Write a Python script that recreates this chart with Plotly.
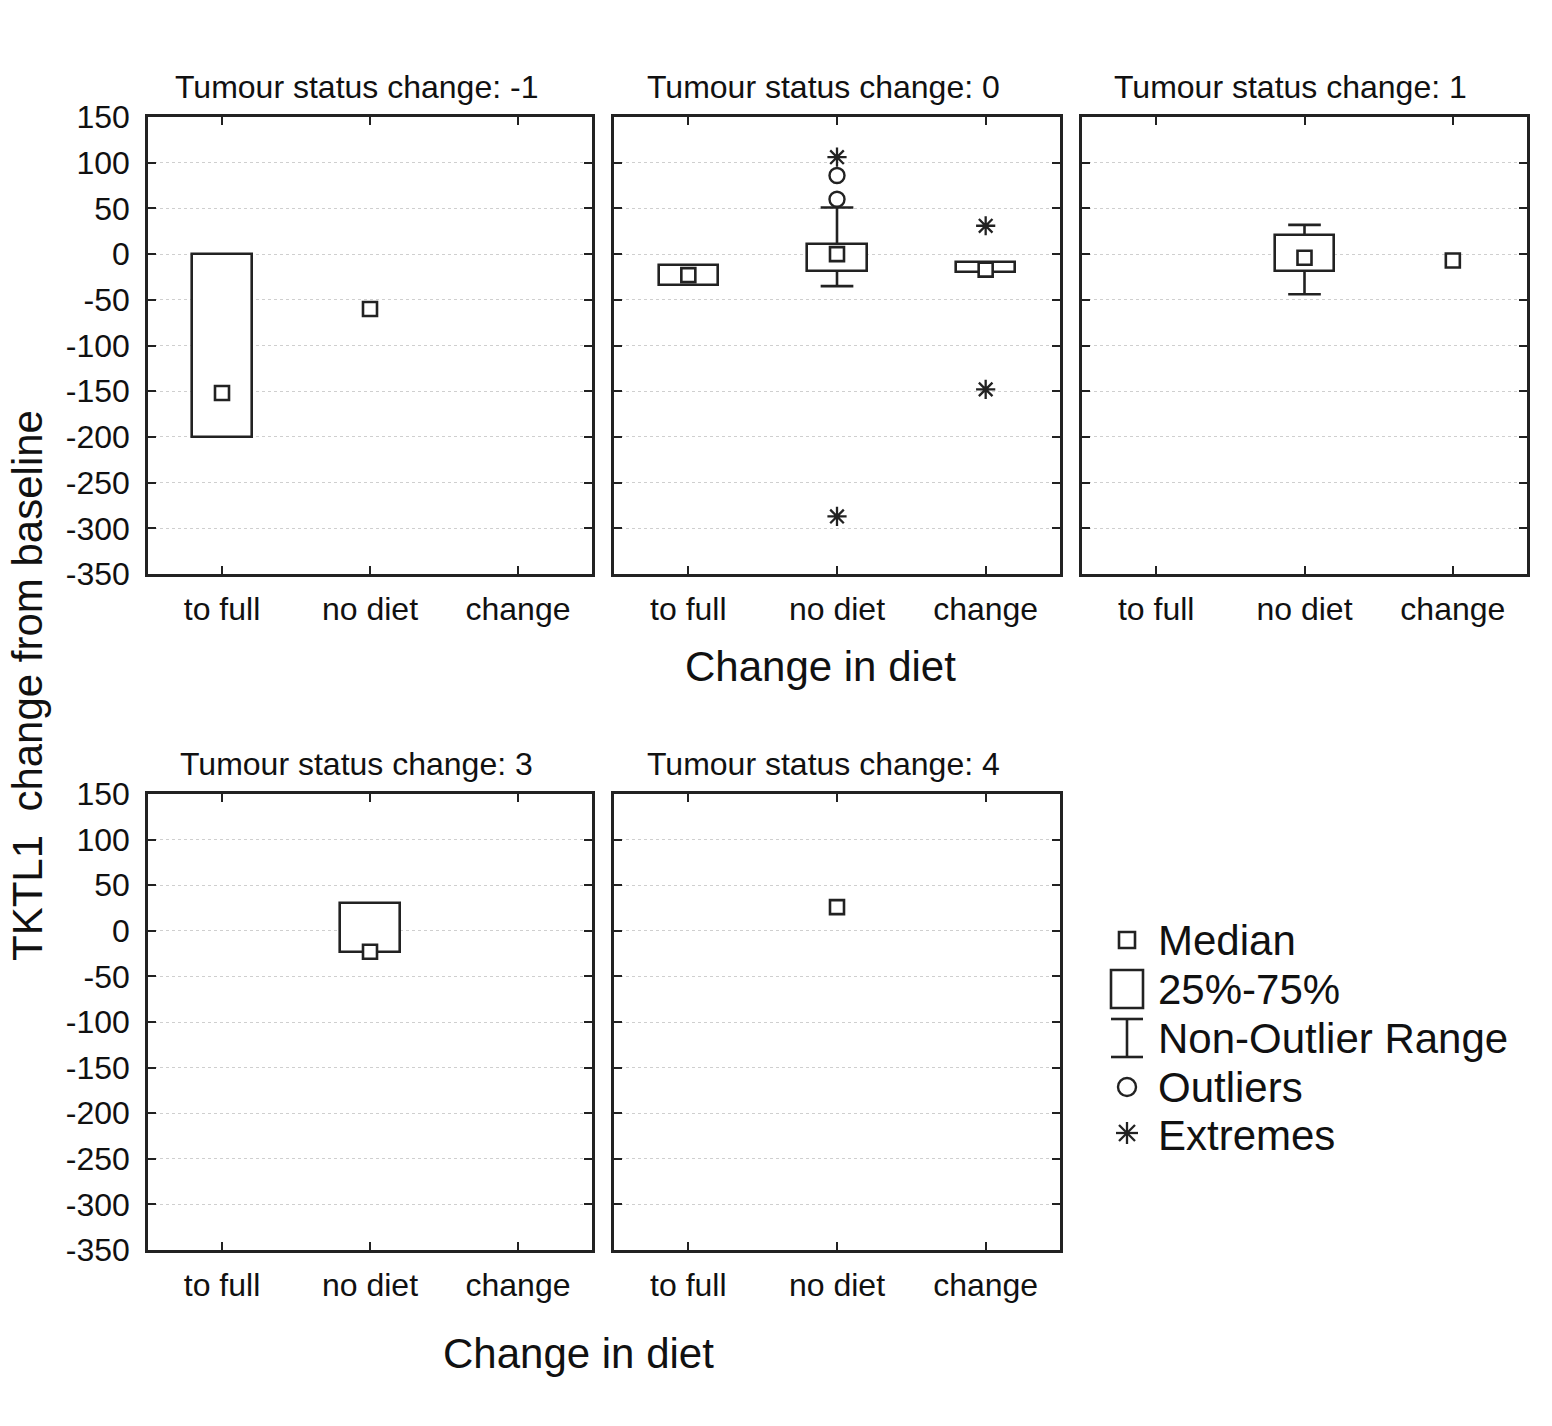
import plotly.graph_objects as go

W, H = 1552, 1426

# ---------------- data ----------------
CATEGORIES = ["to full", "no diet", "change"]
PANEL_LABELS = ["-1", "0", "1", "3", "4"]
# rows = panels (tumour status change), columns = categories; None = no data
MEDIAN = [[-152, -60, None], [-23, 0, -17], [None, -4, -7], [None, -23, None], [None, 26, None]]
Q1 = [[-200, None, None], [-34, -19, -20], [None, -19, None], [None, -23, None], [None, None, None]]
Q3 = [[0, None, None], [-12, 11, -9], [None, 21, None], [None, 30, None], [None, None, None]]
LOWER = [[-200, None, None], [-34, -35, -20], [None, -44, None], [None, -23, None], [None, None, None]]
UPPER = [[0, None, None], [-12, 51, -9], [None, 32, None], [None, 30, None], [None, None, None]]
# (category index, value)
OUTLIERS = [[], [(1, 60), (1, 86)], [], [], []]
EXTREMES = [[], [(1, 106), (1, -287), (2, 31), (2, -148)], [], [], []]
YTICKS = [-350, -300, -250, -200, -150, -100, -50, 0, 50, 100, 150]
LEGEND_LABELS = ["Median", "25%-75%", "Non-Outlier Range", "Outliers", "Extremes"]

# ---------------- layout geometry (pixels) ----------------
COLS = [(148, 592), (614, 1060), (1082, 1527)]
ROWS = [(117, 574), (794, 1250)]
CELLS = [(0, 0), (0, 1), (0, 2), (1, 0), (1, 1)]

INK = "#222222"
TXT = "#111111"
FONT = "Liberation Sans, Arial, sans-serif"


def px(x):
    return x / W


def py(y):
    return 1 - y / H


fig = go.Figure()
layout_axes = {}
annotations = []
shapes = []

BOX_W = 0.4
CAP = 0.11

for i, (r, c) in enumerate(CELLS):
    sfx = "" if i == 0 else str(i + 1)
    xa, ya = "x" + sfx, "y" + sfx
    # boxes (25%-75%)
    bx, by, bb = [], [], []
    for k in range(3):
        if Q1[i][k] is not None and Q3[i][k] is not None:
            bx.append(k)
            by.append(Q3[i][k] - Q1[i][k])
            bb.append(Q1[i][k])
    if bx:
        fig.add_trace(go.Bar(x=bx, y=by, base=bb, width=BOX_W, xaxis=xa, yaxis=ya,
                             marker=dict(color="white", line=dict(color=INK, width=2.6)),
                             showlegend=False, hoverinfo="skip"))
    # whiskers (non-outlier range)
    wx, wy = [], []
    for k in range(3):
        if UPPER[i][k] is not None and Q3[i][k] is not None and UPPER[i][k] > Q3[i][k]:
            wx += [k, k, None, k - CAP, k + CAP, None]
            wy += [Q3[i][k], UPPER[i][k], None, UPPER[i][k], UPPER[i][k], None]
        if LOWER[i][k] is not None and Q1[i][k] is not None and LOWER[i][k] < Q1[i][k]:
            wx += [k, k, None, k - CAP, k + CAP, None]
            wy += [Q1[i][k], LOWER[i][k], None, LOWER[i][k], LOWER[i][k], None]
    if wx:
        fig.add_trace(go.Scatter(x=wx, y=wy, mode="lines", xaxis=xa, yaxis=ya,
                                 line=dict(color=INK, width=2.6), showlegend=False,
                                 hoverinfo="skip"))
    # medians
    mx = [k for k in range(3) if MEDIAN[i][k] is not None]
    my = [MEDIAN[i][k] for k in mx]
    fig.add_trace(go.Scatter(x=mx, y=my, mode="markers", xaxis=xa, yaxis=ya,
                             marker=dict(symbol="square", size=14, color="white",
                                         line=dict(color=INK, width=2.6)),
                             showlegend=False))
    if OUTLIERS[i]:
        fig.add_trace(go.Scatter(x=[o[0] for o in OUTLIERS[i]], y=[o[1] for o in OUTLIERS[i]],
                                 mode="markers", xaxis=xa, yaxis=ya,
                                 marker=dict(symbol="circle-open", size=15, color=INK,
                                             line=dict(color=INK, width=2.4)),
                                 showlegend=False))
    if EXTREMES[i]:
        fig.add_trace(go.Scatter(x=[o[0] for o in EXTREMES[i]], y=[o[1] for o in EXTREMES[i]],
                                 mode="markers", xaxis=xa, yaxis=ya,
                                 marker=dict(symbol="asterisk-open", size=16, color=INK,
                                             line=dict(color=INK, width=2.3)),
                                 showlegend=False))

    x0, x1 = COLS[c]
    y0, y1 = ROWS[r]
    layout_axes["xaxis" + sfx] = dict(
        domain=[px(x0), px(x1)], anchor=ya, range=[-0.5, 2.5],
        tickmode="array", tickvals=[0, 1, 2], ticktext=CATEGORIES,
        showline=True, linecolor=INK, linewidth=2.6, mirror="ticks",
        ticks="inside", ticklen=8, tickwidth=2.2, tickcolor=INK,
        showgrid=False, zeroline=False, ticklabelstandoff=5, automargin=False,
        tickfont=dict(family=FONT, size=32, color=TXT), fixedrange=True)
    layout_axes["yaxis" + sfx] = dict(
        domain=[py(y1), py(y0)], anchor=xa, range=[-350, 150],
        tickmode="array", tickvals=YTICKS, ticktext=[str(v) for v in YTICKS],
        showticklabels=(c == 0),
        showline=True, linecolor=INK, linewidth=2.6, mirror="ticks",
        ticks="inside", ticklen=8, tickwidth=2.2, tickcolor=INK,
        showgrid=True, gridcolor="#cfcfcf", griddash="dot", gridwidth=1.2,
        zeroline=False, ticklabelstandoff=9, automargin=False,
        tickfont=dict(family=FONT, size=32, color=TXT), fixedrange=True)
    # panel title
    annotations.append(dict(
        text="Tumour status change: " + PANEL_LABELS[i],
        x=px((x0 + x1) / 2 - 14), y=py(y0 - 30), xref="paper", yref="paper",
        showarrow=False, xanchor="center", yanchor="middle",
        font=dict(family=FONT, size=32, color=TXT)))

# axis titles
annotations.append(dict(text="Change in diet", x=px(820), y=py(666), xref="paper", yref="paper",
                        showarrow=False, xanchor="center", yanchor="middle",
                        font=dict(family=FONT, size=42, color=TXT)))
annotations.append(dict(text="Change in diet", x=px(578), y=py(1353), xref="paper", yref="paper",
                        showarrow=False, xanchor="center", yanchor="middle",
                        font=dict(family=FONT, size=42, color=TXT)))
annotations.append(dict(text="TKTL1  change from baseline", x=px(28), y=py(686), xref="paper",
                        yref="paper", showarrow=False, textangle=-90,
                        xanchor="center", yanchor="middle",
                        font=dict(family=FONT, size=42, color=TXT)))

# ---------------- legend (custom) ----------------
LEG_Y = [940, 989, 1038, 1087, 1135]
LX = 1127
for lab, yy in zip(LEGEND_LABELS, LEG_Y):
    annotations.append(dict(text=lab, x=px(1156), y=py(yy), xref="paper", yref="paper",
                            showarrow=False, xanchor="left", yanchor="middle",
                            font=dict(family=FONT, size=42, color=TXT)))
line_style = dict(color=INK, width=2.6)
# median square
shapes.append(dict(type="rect", xref="paper", yref="paper", x0=px(LX - 8), x1=px(LX + 8),
                   y0=py(LEG_Y[0] - 8), y1=py(LEG_Y[0] + 8), line=line_style))
# box
shapes.append(dict(type="rect", xref="paper", yref="paper", x0=px(LX - 16), x1=px(LX + 16),
                   y0=py(LEG_Y[1] - 19), y1=py(LEG_Y[1] + 19), line=line_style))
# whisker I
yt, yb = LEG_Y[2] - 19, LEG_Y[2] + 19
shapes.append(dict(type="line", xref="paper", yref="paper", x0=px(LX), x1=px(LX),
                   y0=py(yt), y1=py(yb), line=line_style))
for yy in (yt, yb):
    shapes.append(dict(type="line", xref="paper", yref="paper", x0=px(LX - 16), x1=px(LX + 16),
                       y0=py(yy), y1=py(yy), line=line_style))
# outlier circle
shapes.append(dict(type="circle", xref="paper", yref="paper", x0=px(LX - 9), x1=px(LX + 9),
                   y0=py(LEG_Y[3] - 9), y1=py(LEG_Y[3] + 9), line=dict(color=INK, width=2.4)))
# extremes asterisk
ay = LEG_Y[4] - 2
for dx, dy in [(0, 11), (11, 0), (8, 8), (8, -8)]:
    shapes.append(dict(type="line", xref="paper", yref="paper", x0=px(LX - dx), x1=px(LX + dx),
                       y0=py(ay - dy), y1=py(ay + dy), line=dict(color=INK, width=2.3)))

fig.update_layout(
    width=W, height=H, autosize=False,
    margin=dict(l=0, r=0, t=0, b=0, pad=0, autoexpand=False),
    paper_bgcolor="white", plot_bgcolor="white",
    showlegend=False, bargap=0,
    annotations=annotations, shapes=shapes,
    **layout_axes)

fig.write_html("out.html", config={"displayModeBar": False},
               post_script="document.body.style.margin='0';")
